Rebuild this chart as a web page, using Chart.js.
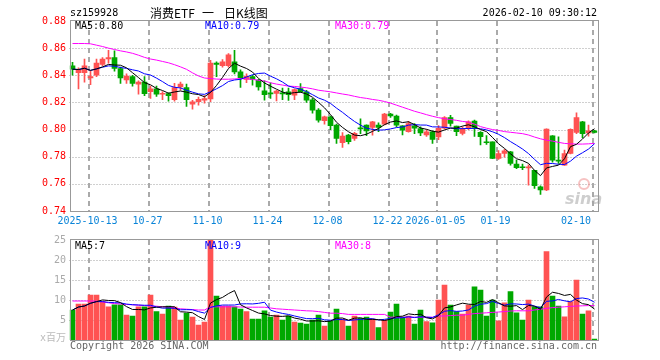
<!DOCTYPE html>
<html>
<head>
<meta charset="utf-8">
<script src="https://cdn.jsdelivr.net/npm/chart.js@4"></script>
<style>
  html, body { margin: 0; padding: 0; background: #fff; }
  #wrap { position: relative; width: 660px; height: 360px; }
  #wrap canvas { position: absolute; left: 0; }
  #price { top: 0; }
  #vol { top: 232px; }
</style>
</head>
<body>
<div id="wrap">
  <canvas id="price" width="660" height="232"></canvas>
  <canvas id="vol" width="660" height="128"></canvas>
</div>
<script>
const dates = [
  "2025-09-30", "2025-10-09", "2025-10-10", "2025-10-13", "2025-10-14", "2025-10-15", "2025-10-16", "2025-10-17",
  "2025-10-20", "2025-10-21", "2025-10-22", "2025-10-23", "2025-10-24", "2025-10-27", "2025-10-28", "2025-10-29",
  "2025-10-30", "2025-10-31", "2025-11-03", "2025-11-04", "2025-11-05", "2025-11-06", "2025-11-07", "2025-11-10",
  "2025-11-11", "2025-11-12", "2025-11-13", "2025-11-14", "2025-11-17", "2025-11-18", "2025-11-19", "2025-11-20",
  "2025-11-21", "2025-11-24", "2025-11-25", "2025-11-26", "2025-11-27", "2025-11-28", "2025-12-01", "2025-12-02",
  "2025-12-03", "2025-12-04", "2025-12-05", "2025-12-08", "2025-12-09", "2025-12-10", "2025-12-11", "2025-12-12",
  "2025-12-15", "2025-12-16", "2025-12-17", "2025-12-18", "2025-12-19", "2025-12-22", "2025-12-23", "2025-12-24",
  "2025-12-25", "2025-12-26", "2025-12-29", "2025-12-30", "2025-12-31", "2026-01-05", "2026-01-06", "2026-01-07",
  "2026-01-08", "2026-01-09", "2026-01-12", "2026-01-13", "2026-01-14", "2026-01-15", "2026-01-16", "2026-01-19",
  "2026-01-20", "2026-01-21", "2026-01-22", "2026-01-23", "2026-01-26", "2026-01-27", "2026-01-28", "2026-01-29",
  "2026-01-30", "2026-02-02", "2026-02-03", "2026-02-04", "2026-02-05", "2026-02-06", "2026-02-09", "2026-02-10",
];

const open = [
  .847, .842, .842, .838, .840, .848, .852, .853, .845, .8365, .839, .8335, .835, .828, .830, .826,
  .8265, .822, .8315, .831, .8187, .8205, .8217, .8225, .849, .847, .847, .850, .8425, .837, .839, .8364,
  .8285, .8268, .8266, .8268, .8278, .8254, .8302, .8278, .822, .8143, .8065, .8094, .8033, .7903, .796, .7935,
  .8012, .8033, .8015, .8033, .804, .8114, .810, .8028, .7984, .8028, .8008, .796, .7984, .7945, .801, .8089,
  .8025, .7972, .8008, .8062, .7979, .7908, .791, .7788, .7824, .7836, .7746, .7722, .7718, .770, .7579, .7555,
  .7954, .777, .7738, .7824, .7979, .8057, .7975, .7991,
];
const high = [
  .8495, .8455, .852, .843, .852, .853, .8584, .858, .846, .841, .840, .836, .839, .832, .832, .828,
  .827, .834, .835, .8335, .8215, .824, .825, .851, .850, .8515, .856, .8584, .844, .841, .840, .837,
  .836, .8345, .829, .8305, .8305, .830, .8339, .829, .823, .8155, .810, .810, .804, .7977, .7965, .798,
  .808, .8035, .806, .805, .812, .812, .8107, .803, .806, .8045, .802, .800, .799, .803, .8095, .8105,
  .8025, .802, .8065, .807, .7985, .7955, .791, .7845, .7855, .784, .7775, .7745, .774, .770, .7585, .8005,
  .7955, .7947, .7849, .8005, .8123, .806, .8033, .7995,
];
const low = [
  .840, .830, .835, .833, .839, .847, .849, .843, .834, .834, .832, .826, .825, .823, .8245, .822,
  .821, .821, .829, .817, .815, .818, .8195, .8205, .839, .846, .846, .841, .831, .8345, .8327, .829,
  .8217, .823, .8212, .822, .8215, .822, .8275, .820, .812, .8055, .804, .800, .7898, .7868, .7895, .792,
  .797, .7955, .7959, .7985, .8035, .809, .802, .796, .798, .797, .7955, .795, .7898, .7925, .8005, .8025,
  .7955, .796, .800, .795, .7886, .789, .7785, .778, .7797, .7738, .7712, .7705, .759, .7567, .7523, .755,
  .776, .775, .7735, .782, .797, .794, .7952, .7975,
];
const close = [
  .8445, .844, .847, .839, .849, .852, .853, .845, .838, .8395, .834, .835, .8265, .830, .826, .8265,
  .825, .831, .8335, .822, .8204, .8222, .8229, .849, .848, .850, .855, .8425, .8383, .8393, .8369, .8315,
  .8258, .8263, .8283, .8263, .8258, .8295, .8278, .8217, .8143, .807, .8094, .8028, .7935, .7952, .791, .7972,
  .8005, .799, .8057, .8015, .8114, .810, .8033, .7996, .8045, .801, .7975, .7984, .7927, .801, .8089, .8045,
  .7984, .8001, .8057, .8015, .7947, .7903, .7788, .7824, .7844, .775, .772, .7719, .7722, .7587, .7555, .8003,
  .7775, .7768, .7824, .8001, .8089, .797, .7991, .7979,
];
// 成交量，单位百万
const volume = [
  7.5, 9.0, 9.0, 11.25, 11.25, 9.6, 8.3, 8.8, 8.8, 6.25, 6.0, 8.3, 8.3, 11.25, 7.1, 6.5,
  8.5, 8.2, 5.0, 6.7, 5.7, 3.75, 4.5, 25.5, 11.0, 8.5, 8.5, 8.3, 7.75, 7.1, 5.25, 5.25,
  7.3, 5.7, 6.25, 5.0, 6.0, 4.5, 4.25, 4.0, 5.0, 6.25, 3.5, 4.8, 7.75, 5.2, 3.5, 6.0,
  5.4, 5.7, 5.2, 3.1, 5.0, 7.0, 9.0, 5.7, 6.0, 4.0, 7.5, 4.6, 4.3, 10.0, 13.75, 8.7,
  7.1, 6.5, 8.75, 13.3, 12.5, 6.0, 10.0, 4.8, 9.3, 12.1, 6.8, 5.0, 10.0, 8.3, 8.3, 22.1,
  11.0, 8.5, 5.8, 9.6, 15.0, 6.5, 7.3, 0.25,
];
// MA30 (l'historique avant la fenêtre n'est pas visible)
const ma30Price = [
  .8634, .8634, .8634, .8632, .8622, .8612, .8600, .8590, .8580, .8572, .8562, .8548, .8532, .8520, .8512, .8502,
  .8492, .8478, .8462, .8444, .8418, .8395, .8380, .8376, .8372, .8371, .8371, .8373, .8376, .8374, .8370, .8363,
  .8358, .8345, .8335, .8328, .8320, .8318, .8313, .8308, .8300, .8290, .8284, .8278, .8270, .8262, .8255, .8245,
  .8236, .8230, .8222, .8216, .8207, .8195, .8180, .8165, .8150, .8135, .8123, .8110, .8098, .8088, .8080, .8074,
  .8068, .8060, .8055, .8040, .8022, .8010, .8000, .7994, .7985, .7980, .7975, .7970, .7960, .7945, .7932, .7922,
  .7915, .7906, .7898, .7895, .7893, .7893, .7895, .7898,
];
const ma30Volume = [
  9.75, 9.75, 9.75, 9.75, 9.7, 9.5, 9.3, 9.1, 9.0, 8.9, 8.8, 8.7, 8.6, 8.5, 8.45, 8.3,
  8.2, 8.0, 7.8, 7.7, 7.6, 7.5, 7.5, 8.3, 8.3, 8.3, 8.3, 8.3, 8.25, 8.2, 8.2, 8.2,
  8.2, 8.0, 7.8, 7.7, 7.6, 7.5, 7.4, 7.3, 7.25, 7.1, 6.9, 6.7, 6.7, 6.6, 6.4, 6.4,
  6.4, 6.4, 6.4, 6.4, 6.4, 5.7, 5.7, 5.7, 5.7, 5.7, 5.7, 5.7, 5.7, 6.0, 6.0, 6.1,
  6.2, 6.2, 6.4, 6.6, 6.7, 6.8, 6.9, 7.0, 7.1, 7.25, 7.3, 7.3, 7.3, 7.5, 7.7, 7.9,
  8.1, 8.2, 8.3, 8.4, 8.5, 8.55, 8.6, 8.6,
];

const priceTicks = [0.88, 0.86, 0.84, 0.82, 0.80, 0.78, 0.76, 0.74];
const volumeTicks = [25, 20, 15, 10, 5];
const tickDates = ["2025-10-13", "2025-10-27", "2025-11-10", "2025-11-24", "2025-12-08", "2025-12-22", "2026-01-05", "2026-01-19", "2026-02-10"];
const tickLabels = ["2025-10-13", "10-27", "11-10", "11-24", "12-08", "12-22", "2026-01-05", "01-19", "02-10"];

const RED = "#ff5252";
const GREEN = "#00a800";
const FONT = "10px 'DejaVu Sans Mono', monospace";

const movingAvg = (arr, n) =>
  arr.map((_, i) => {
    const win = arr.slice(Math.max(0, i - n + 1), i + 1);
    return win.reduce((s, v) => s + v, 0) / win.length;
  });

const candleColors = close.map((c, i) => (c >= open[i] ? RED : GREEN));

const text = (ctx, str, px, py, color, align = "left", font = FONT) => {
  ctx.font = font;
  ctx.fillStyle = color;
  ctx.textAlign = align;
  ctx.textBaseline = "middle";
  ctx.fillText(str, px, py);
};

const drawGrid = (chart, hValues) => {
  const { ctx, chartArea: a, scales: { x, y } } = chart;
  ctx.save();
  ctx.lineWidth = 1;
  ctx.strokeStyle = "#a0a0a0";
  ctx.setLineDash([1, 2]);
  hValues.forEach((v) => {
    const py = Math.round(y.getPixelForValue(v)) + 0.5;
    ctx.beginPath();
    ctx.moveTo(a.left, py);
    ctx.lineTo(a.right, py);
    ctx.stroke();
  });
  ctx.lineWidth = 2;
  ctx.strokeStyle = "#aaaaaa";
  ctx.setLineDash([5, 4]);
  tickDates.forEach((d) => {
    const px = x.getPixelForValue(dates.indexOf(d)) - 1.5;
    ctx.beginPath();
    ctx.moveTo(px, a.top);
    ctx.lineTo(px, a.bottom);
    ctx.stroke();
  });
  ctx.restore();
};

const drawFrame = (chart) => {
  const { ctx, chartArea: a } = chart;
  ctx.save();
  ctx.strokeStyle = "#999";
  ctx.lineWidth = 1;
  ctx.strokeRect(Math.round(a.left) + 0.5, Math.round(a.top) - 0.5, Math.round(a.right - a.left), Math.round(a.bottom - a.top) + 1);
  ctx.restore();
};

const lineSet = (data, color) => ({
  type: "line",
  data,
  borderColor: color,
  borderWidth: 1,
  pointRadius: 0,
  tension: 0,
  fill: false,
  order: 0,
});

const pricePanel = {
  id: "pricePanel",
  beforeDatasetsDraw(chart) {
    const { ctx } = chart;
    drawGrid(chart, priceTicks.slice(1, -1));
    // filigrane sina
    ctx.save();
    ctx.strokeStyle = "rgba(235,120,120,0.45)";
    ctx.lineWidth = 2;
    ctx.beginPath();
    ctx.arc(584, 184, 5, 0, Math.PI * 2);
    ctx.stroke();
    ctx.font = "italic bold 16px 'DejaVu Sans'";
    ctx.fillStyle = "rgba(165,165,165,0.55)";
    ctx.textBaseline = "alphabetic";
    ctx.fillText("sina", 565, 204);
    ctx.restore();
  },
  afterDraw(chart) {
    const { ctx, chartArea: a, scales: { x, y } } = chart;
    drawFrame(chart);
    ctx.save();
    priceTicks.forEach((v) => text(ctx, v.toFixed(2), 66, y.getPixelForValue(v), "#f00", "right"));
    tickDates.forEach((d, k) => {
      const px = x.getPixelForValue(dates.indexOf(d)) - 2.5;
      ctx.font = FONT;
      const w = ctx.measureText(tickLabels[k]).width;
      if (px + w / 2 > a.right) text(ctx, tickLabels[k], px - 1, 221, "#0a84d8", "right");
      else text(ctx, tickLabels[k], px - 0.5, 221, "#0a84d8", "center");
    });
    text(ctx, "sz159928", 70, 13, "#000");
    const cjk = "12px 'Noto Sans CJK SC', sans-serif";
    text(ctx, "消费ETF", 150, 13, "#000", "left", cjk);
    text(ctx, "一", 202, 13, "#000", "left", cjk);
    text(ctx, "日K线图", 224, 13, "#000", "left", cjk);
    text(ctx, "2026-02-10 09:30:12", 597, 13, "#000", "right");
    text(ctx, "MA5:0.80", 75, 26, "#000");
    text(ctx, "MA10:0.79", 205, 26, "#0000ff");
    text(ctx, "MA30:0.79", 335, 26, "#ff00ff");
    ctx.restore();
  },
};

const volumePanel = {
  id: "volumePanel",
  beforeDatasetsDraw(chart) {
    drawGrid(chart, volumeTicks.slice(1));
  },
  afterDraw(chart) {
    const { ctx, chartArea: a, scales: { y } } = chart;
    drawFrame(chart);
    ctx.save();
    volumeTicks.forEach((v) => text(ctx, String(v), 66, y.getPixelForValue(v), "#aaa", "right"));
    text(ctx, "x百万", 66, a.bottom - 2, "#bbb", "right", "10px 'DejaVu Sans Mono', 'Noto Sans CJK SC'");
    text(ctx, "MA5:7", 75, a.top + 6.5, "#000");
    text(ctx, "MA10:9", 205, a.top + 6.5, "#0000ff");
    text(ctx, "MA30:8", 335, a.top + 6.5, "#ff00ff");
    text(ctx, "Copyright 2026 SINA.COM", 70, a.bottom + 6, "#666");
    text(ctx, "http://finance.sina.com.cn", 597, a.bottom + 6, "#666", "right");
    ctx.restore();
  },
};

const baseOptions = (yMin, yMax, padding) => ({
  responsive: false,
  animation: false,
  events: [],
  layout: { padding },
  plugins: { legend: { display: false }, tooltip: { enabled: false } },
  scales: {
    x: { display: false, offset: true },
    y: { display: false, min: yMin, max: yMax },
  },
});

new Chart(document.getElementById("price"), {
  type: "bar",
  data: {
    labels: dates,
    datasets: [
      lineSet(movingAvg(close, 5), "#000000"),
      lineSet(movingAvg(close, 10), "#0000ff"),
      lineSet(ma30Price, "#ff00ff"),
      {
        data: dates.map((_, i) => [open[i], close[i]]),
        backgroundColor: candleColors,
        barThickness: 5,
        minBarLength: 1,
        grouped: false,
        order: 1,
      },
      {
        data: dates.map((_, i) => [low[i], high[i]]),
        backgroundColor: candleColors,
        barThickness: 1,
        grouped: false,
        order: 2,
      },
    ],
  },
  options: baseOptions(0.74, 0.88, { left: 69.5, right: 62.5, top: 21, bottom: 21 }),
  plugins: [pricePanel],
});

new Chart(document.getElementById("vol"), {
  type: "bar",
  data: {
    labels: dates,
    datasets: [
      lineSet(movingAvg(volume, 5), "#000000"),
      lineSet(movingAvg(volume, 10), "#0000ff"),
      lineSet(ma30Volume, "#ff00ff"),
      {
        data: volume,
        backgroundColor: candleColors,
        barThickness: 5,
        grouped: false,
        order: 1,
      },
    ],
  },
  options: baseOptions(0, 25, { left: 69.5, right: 62.5, top: 8, bottom: 20 }),
  plugins: [volumePanel],
});
</script>
</body>
</html>
